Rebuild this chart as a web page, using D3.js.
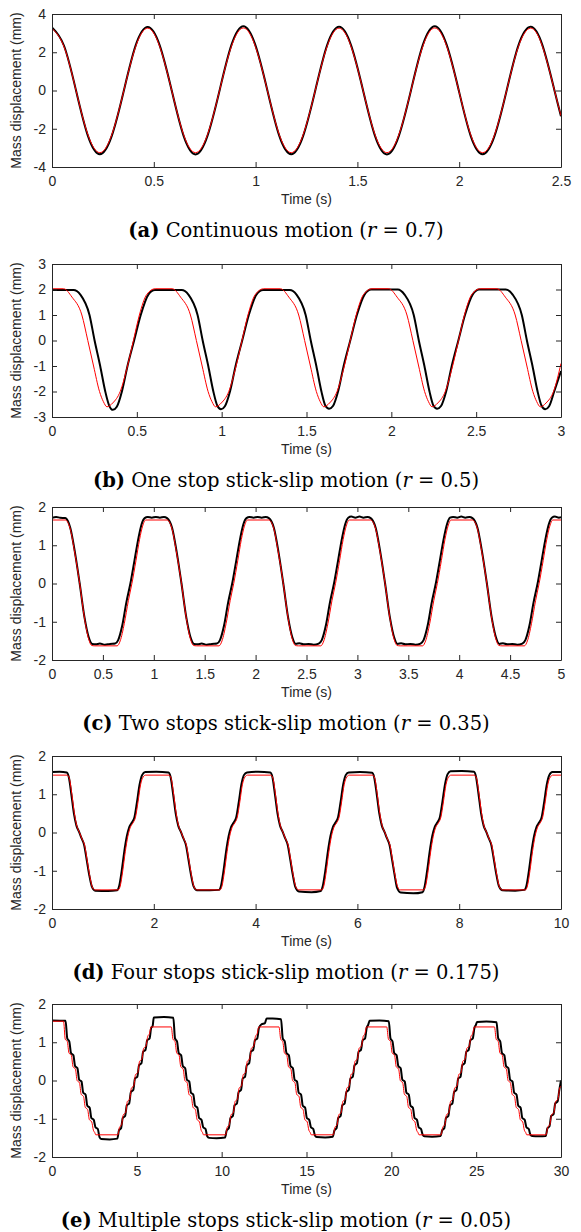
<!DOCTYPE html>
<html>
<head>
<meta charset="utf-8">
<script src="https://cdn.jsdelivr.net/npm/d3@7"></script>
<style>
  body { margin: 0; background: #fff; }
  svg text { font-family: "Liberation Sans", Arial, sans-serif; font-size: 14px; fill: #262626; }
  svg text.caption { font-family: "DejaVu Serif", "Liberation Serif", serif; font-size: 19.5px; fill: #000; }
</style>
</head>
<body>
<svg id="fig" width="581" height="1232"></svg>
<script>
// ---- data ----

// (a) continuous motion
const aTime = [0, 0.059, 0.118, 0.176, 0.235, 0.294, 0.353, 0.411, 0.47, 0.529, 0.588, 0.646, 0.705, 0.764, 0.823, 0.881,
  0.94, 0.999, 1.058, 1.116, 1.175, 1.234, 1.293, 1.351, 1.41, 1.469, 1.528, 1.586, 1.645, 1.704, 1.763, 1.821,
  1.88, 1.939, 1.998, 2.056, 2.115, 2.174, 2.233, 2.291, 2.35, 2.409, 2.468, 2.5];
const aBlack = [3.30, 2.34, 0, -2.36, -3.33, -2.36, 0, 2.36, 3.32, 2.36, 0, -2.36, -3.34, -2.36, 0, 2.37,
  3.36, 2.37, 0, -2.36, -3.33, -2.36, 0, 2.36, 3.33, 2.36, 0, -2.36, -3.34, -2.36, 0, 2.37,
  3.36, 2.37, 0, -2.36, -3.33, -2.36, 0, 2.36, 3.33, 2.36, 0, -1.35];
const aRed = [3.25, 2.29, 0, -2.30, -3.25, -2.30, 0, 2.30, 3.26, 2.30, 0, -2.30, -3.25, -2.30, 0, 2.30,
  3.27, 2.30, 0, -2.30, -3.25, -2.30, 0, 2.30, 3.26, 2.30, 0, -2.30, -3.25, -2.30, 0, 2.30,
  3.27, 2.30, 0, -2.30, -3.25, -2.30, 0, 2.30, 3.26, 2.30, 0, -1.32];

// (b) one stop stick-slip
const bBlack = [[0,1.98],[0.127,1.98],[0.167,1.8],[0.221,1.0],[0.251,0],[0.284,-1.0],[0.314,-2.0],[0.337,-2.55],[0.359,-2.72],[0.382,-2.6],[0.412,-2.0],[0.445,-1.0],[0.484,0],[0.523,1.0],[0.568,1.8],[0.607,1.98],
  [0.764,1.98],[0.804,1.8],[0.858,1.0],[0.888,0],[0.921,-1.0],[0.951,-2.0],[0.974,-2.55],[0.996,-2.7],[1.019,-2.58],[1.049,-2.0],[1.082,-1.0],[1.121,0],[1.16,1.0],[1.205,1.8],[1.244,1.98],
  [1.401,1.98],[1.441,1.8],[1.495,1.0],[1.525,0],[1.558,-1.0],[1.588,-2.0],[1.611,-2.55],[1.633,-2.68],[1.656,-2.57],[1.686,-2.0],[1.719,-1.0],[1.758,0],[1.797,1.0],[1.842,1.8],[1.881,2.0],
  [2.038,2.0],[2.078,1.8],[2.132,1.0],[2.162,0],[2.195,-1.0],[2.225,-2.0],[2.248,-2.55],[2.27,-2.68],[2.293,-2.57],[2.323,-2.0],[2.356,-1.0],[2.395,0],[2.434,1.0],[2.479,1.8],[2.518,2.0],
  [2.675,2.0],[2.715,1.8],[2.769,1.0],[2.799,0],[2.832,-1.0],[2.862,-2.0],[2.885,-2.55],[2.907,-2.7],[2.93,-2.58],[2.96,-2.0],[3.0,-1.2]];
const bRed = [[0,2.03],[0.068,2.03],[0.118,1.7],[0.176,1.0],[0.211,0],[0.245,-1.0],[0.28,-2.0],[0.303,-2.4],[0.324,-2.6],[0.358,-2.45],[0.402,-2.0],[0.445,-1.0],[0.48,0],[0.515,1.0],[0.558,1.8],[0.608,2.03],
  [0.708,2.03],[0.758,1.7],[0.816,1.0],[0.851,0],[0.885,-1.0],[0.92,-2.0],[0.943,-2.4],[0.964,-2.6],[0.998,-2.45],[1.042,-2.0],[1.085,-1.0],[1.12,0],[1.155,1.0],[1.198,1.8],[1.248,2.03],
  [1.346,2.03],[1.396,1.7],[1.454,1.0],[1.489,0],[1.523,-1.0],[1.558,-2.0],[1.581,-2.4],[1.602,-2.6],[1.636,-2.45],[1.68,-2.0],[1.723,-1.0],[1.758,0],[1.793,1.0],[1.836,1.8],[1.886,2.03],
  [1.984,2.03],[2.034,1.7],[2.092,1.0],[2.127,0],[2.161,-1.0],[2.196,-2.0],[2.219,-2.4],[2.24,-2.6],[2.274,-2.45],[2.318,-2.0],[2.361,-1.0],[2.396,0],[2.431,1.0],[2.474,1.8],[2.524,2.03],
  [2.622,2.03],[2.672,1.7],[2.73,1.0],[2.765,0],[2.799,-1.0],[2.834,-2.0],[2.857,-2.4],[2.878,-2.6],[2.912,-2.45],[2.956,-2.0],[3.0,-0.9]];

// (c) two stops stick-slip
const cBlack = [[0,1.72],[0.04,1.74],[0.08,1.72],[0.13,1.71],[0.18,1.45],[0.22,0.9],[0.272,0],[0.32,-0.9],[0.36,-1.4],[0.395,-1.58],[0.43,-1.59],[0.47,-1.57],[0.52,-1.6],[0.57,-1.58],[0.62,-1.57],[0.65,-1.48],[0.69,-1.1],[0.73,-0.5],[0.77,0],[0.81,0.6],[0.85,1.2],[0.88,1.55],[0.91,1.71],[0.94,1.74],[0.98,1.72],[1.02,1.74],[1.06,1.72],[1.1,1.74],
  [1.13,1.71],[1.18,1.45],[1.22,0.9],[1.272,0],[1.32,-0.9],[1.36,-1.4],[1.395,-1.58],[1.43,-1.59],[1.47,-1.57],[1.52,-1.6],[1.57,-1.58],[1.62,-1.57],[1.65,-1.48],[1.69,-1.1],[1.73,-0.5],[1.77,0],[1.81,0.6],[1.85,1.2],[1.88,1.55],[1.91,1.71],[1.94,1.74],[1.98,1.72],[2.02,1.74],[2.06,1.72],[2.1,1.74],
  [2.13,1.71],[2.18,1.45],[2.22,0.9],[2.272,0],[2.32,-0.9],[2.36,-1.4],[2.395,-1.58],[2.43,-1.56],[2.47,-1.59],[2.52,-1.58],[2.57,-1.6],[2.62,-1.57],[2.65,-1.48],[2.69,-1.1],[2.73,-0.5],[2.77,0],[2.81,0.6],[2.85,1.2],[2.88,1.55],[2.91,1.72],[2.94,1.75],[2.98,1.72],[3.02,1.75],[3.06,1.72],[3.1,1.74],
  [3.13,1.71],[3.18,1.45],[3.22,0.9],[3.272,0],[3.32,-0.9],[3.36,-1.4],[3.395,-1.58],[3.43,-1.56],[3.47,-1.59],[3.52,-1.58],[3.57,-1.6],[3.62,-1.57],[3.65,-1.48],[3.69,-1.1],[3.73,-0.5],[3.77,0],[3.81,0.6],[3.85,1.2],[3.88,1.55],[3.91,1.72],[3.94,1.74],[3.98,1.72],[4.02,1.75],[4.06,1.72],[4.1,1.74],
  [4.13,1.71],[4.18,1.45],[4.22,0.9],[4.272,0],[4.32,-0.9],[4.36,-1.4],[4.395,-1.58],[4.43,-1.56],[4.47,-1.59],[4.52,-1.58],[4.57,-1.6],[4.62,-1.57],[4.65,-1.48],[4.69,-1.1],[4.73,-0.5],[4.77,0],[4.81,0.6],[4.85,1.2],[4.88,1.55],[4.91,1.72],[4.94,1.75],[4.98,1.72],[5.0,1.73]];
const cRed = [[0,1.66],[0.13,1.66],[0.18,1.42],[0.22,0.86],[0.272,0],[0.32,-0.92],[0.36,-1.45],[0.39,-1.62],[0.42,-1.63],[0.64,-1.63],[0.67,-1.5],[0.71,-1.05],[0.75,-0.45],[0.785,0],[0.825,0.6],[0.86,1.15],[0.89,1.5],[0.92,1.66],
  [1.13,1.66],[1.18,1.42],[1.22,0.86],[1.272,0],[1.32,-0.92],[1.36,-1.45],[1.39,-1.62],[1.42,-1.63],[1.64,-1.63],[1.67,-1.5],[1.71,-1.05],[1.75,-0.45],[1.785,0],[1.825,0.6],[1.86,1.15],[1.89,1.5],[1.92,1.66],
  [2.13,1.66],[2.18,1.42],[2.22,0.86],[2.272,0],[2.32,-0.92],[2.36,-1.45],[2.39,-1.62],[2.42,-1.63],[2.64,-1.63],[2.67,-1.5],[2.71,-1.05],[2.75,-0.45],[2.785,0],[2.825,0.6],[2.86,1.15],[2.89,1.5],[2.92,1.66],
  [3.13,1.66],[3.18,1.42],[3.22,0.86],[3.272,0],[3.32,-0.92],[3.36,-1.45],[3.39,-1.62],[3.42,-1.63],[3.64,-1.63],[3.67,-1.5],[3.71,-1.05],[3.75,-0.45],[3.785,0],[3.825,0.6],[3.86,1.15],[3.89,1.5],[3.92,1.66],
  [4.13,1.66],[4.18,1.42],[4.22,0.86],[4.272,0],[4.32,-0.92],[4.36,-1.45],[4.39,-1.62],[4.42,-1.63],[4.64,-1.63],[4.67,-1.5],[4.71,-1.05],[4.75,-0.45],[4.785,0],[4.825,0.6],[4.86,1.15],[4.89,1.5],[4.92,1.66],[5.0,1.66]];

// (d) four stops stick-slip
const dBlack = [[0,1.58],[0.15,1.59],[0.29,1.57],[0.33,1.45],[0.38,1.0],[0.43,0.5],[0.48,0.18],[0.53,0.02],[0.58,-0.15],[0.63,-0.32],[0.68,-0.7],[0.73,-1.1],[0.78,-1.4],[0.85,-1.52],[1.1,-1.53],[1.28,-1.51],[1.32,-1.4],[1.37,-1.0],[1.42,-0.5],[1.47,-0.1],[1.52,0.15],[1.57,0.26],[1.62,0.4],[1.67,0.8],[1.72,1.25],[1.77,1.5],[1.83,1.58],[2.05,1.59],
  [2.29,1.57],[2.33,1.45],[2.38,1.0],[2.43,0.5],[2.48,0.18],[2.53,0.02],[2.58,-0.15],[2.63,-0.32],[2.68,-0.7],[2.73,-1.1],[2.78,-1.4],[2.85,-1.51],[3.1,-1.51],[3.28,-1.5],[3.32,-1.4],[3.37,-1.0],[3.42,-0.5],[3.47,-0.1],[3.52,0.15],[3.57,0.26],[3.62,0.4],[3.67,0.8],[3.72,1.25],[3.77,1.5],[3.83,1.57],[4.05,1.59],
  [4.29,1.57],[4.33,1.45],[4.38,1.0],[4.43,0.5],[4.48,0.18],[4.53,0.02],[4.58,-0.15],[4.63,-0.32],[4.68,-0.7],[4.73,-1.1],[4.78,-1.42],[4.85,-1.54],[5.1,-1.56],[5.28,-1.53],[5.32,-1.4],[5.37,-1.0],[5.42,-0.5],[5.47,-0.1],[5.52,0.15],[5.57,0.26],[5.62,0.4],[5.67,0.8],[5.72,1.25],[5.77,1.5],[5.83,1.57],[6.05,1.58],
  [6.29,1.56],[6.33,1.44],[6.38,1.0],[6.43,0.5],[6.48,0.18],[6.53,0.02],[6.58,-0.15],[6.63,-0.32],[6.68,-0.7],[6.73,-1.1],[6.78,-1.45],[6.85,-1.57],[7.1,-1.59],[7.28,-1.56],[7.32,-1.42],[7.37,-1.0],[7.42,-0.5],[7.47,-0.1],[7.52,0.15],[7.57,0.26],[7.62,0.4],[7.67,0.8],[7.72,1.25],[7.77,1.52],[7.83,1.6],[8.05,1.61],
  [8.29,1.59],[8.33,1.46],[8.38,1.0],[8.43,0.5],[8.48,0.18],[8.53,0.02],[8.58,-0.15],[8.63,-0.32],[8.68,-0.7],[8.73,-1.1],[8.78,-1.4],[8.85,-1.51],[9.1,-1.52],[9.28,-1.5],[9.32,-1.4],[9.37,-1.0],[9.42,-0.5],[9.47,-0.1],[9.52,0.15],[9.57,0.26],[9.62,0.4],[9.67,0.8],[9.72,1.25],[9.77,1.5],[9.83,1.58],[10,1.58]];
const dRed = [[0,1.5],[0.3,1.5],[0.34,1.42],[0.39,1.0],[0.44,0.5],[0.49,0.16],[0.54,0.0],[0.59,-0.17],[0.64,-0.33],[0.69,-0.72],[0.74,-1.12],[0.79,-1.42],[0.84,-1.5],[1.3,-1.5],[1.34,-1.4],[1.39,-1.0],[1.44,-0.5],[1.49,-0.1],[1.54,0.14],[1.59,0.25],[1.64,0.4],[1.69,0.8],[1.74,1.25],[1.79,1.45],[1.84,1.5],
  [2.3,1.5],[2.34,1.42],[2.39,1.0],[2.44,0.5],[2.49,0.16],[2.54,0.0],[2.59,-0.17],[2.64,-0.33],[2.69,-0.72],[2.74,-1.12],[2.79,-1.42],[2.84,-1.5],[3.3,-1.5],[3.34,-1.4],[3.39,-1.0],[3.44,-0.5],[3.49,-0.1],[3.54,0.14],[3.59,0.25],[3.64,0.4],[3.69,0.8],[3.74,1.25],[3.79,1.45],[3.84,1.5],
  [4.3,1.5],[4.34,1.42],[4.39,1.0],[4.44,0.5],[4.49,0.16],[4.54,0.0],[4.59,-0.17],[4.64,-0.33],[4.69,-0.72],[4.74,-1.12],[4.79,-1.42],[4.84,-1.5],[5.3,-1.5],[5.34,-1.4],[5.39,-1.0],[5.44,-0.5],[5.49,-0.1],[5.54,0.14],[5.59,0.25],[5.64,0.4],[5.69,0.8],[5.74,1.25],[5.79,1.45],[5.84,1.5],
  [6.3,1.5],[6.34,1.42],[6.39,1.0],[6.44,0.5],[6.49,0.16],[6.54,0.0],[6.59,-0.17],[6.64,-0.33],[6.69,-0.72],[6.74,-1.12],[6.79,-1.42],[6.84,-1.5],[7.3,-1.5],[7.34,-1.4],[7.39,-1.0],[7.44,-0.5],[7.49,-0.1],[7.54,0.14],[7.59,0.25],[7.64,0.4],[7.69,0.8],[7.74,1.25],[7.79,1.45],[7.84,1.5],
  [8.3,1.5],[8.34,1.42],[8.39,1.0],[8.44,0.5],[8.49,0.16],[8.54,0.0],[8.59,-0.17],[8.64,-0.33],[8.69,-0.72],[8.74,-1.12],[8.79,-1.42],[8.84,-1.5],[9.3,-1.5],[9.34,-1.4],[9.39,-1.0],[9.44,-0.5],[9.49,-0.1],[9.54,0.14],[9.59,0.25],[9.64,0.4],[9.69,0.8],[9.74,1.25],[9.79,1.45],[9.84,1.5],[10,1.5]];

// (e) multiple stops stick-slip
const eBlack = [[0,1.57],[0.8,1.56],[0.9,1.1],[1.02,1.02],[1.12,0.72],[1.26,0.66],[1.36,0.38],[1.5,0.32],[1.6,0.02],[1.74,-0.03],[1.84,-0.32],[1.98,-0.37],[2.08,-0.66],[2.22,-0.71],[2.32,-0.98],[2.46,-1.03],[2.56,-1.22],[2.7,-1.27],[2.8,-1.48],[2.9,-1.53],[3.4,-1.54],[3.85,-1.52],
  [3.95,-1.3],[4.07,-1.25],[4.17,-0.98],[4.31,-0.93],[4.41,-0.65],[4.55,-0.6],[4.65,-0.3],[4.79,-0.25],[4.89,0.05],[5.03,0.1],[5.13,0.4],[5.27,0.45],[5.37,0.75],[5.51,0.8],[5.61,1.05],[5.75,1.1],[5.85,1.38],[5.93,1.42],[6.0,1.65],[6.6,1.66],[7.15,1.64],
  [7.25,1.1],[7.37,1.02],[7.47,0.72],[7.61,0.66],[7.71,0.38],[7.85,0.32],[7.95,0.02],[8.09,-0.03],[8.19,-0.32],[8.33,-0.37],[8.43,-0.66],[8.57,-0.71],[8.67,-0.98],[8.81,-1.03],[8.91,-1.22],[9.05,-1.27],[9.15,-1.46],[9.25,-1.5],[9.7,-1.51],[10.2,-1.49],
  [10.3,-1.3],[10.42,-1.25],[10.52,-0.98],[10.66,-0.93],[10.76,-0.65],[10.9,-0.6],[11.0,-0.3],[11.14,-0.25],[11.24,0.05],[11.38,0.1],[11.48,0.4],[11.62,0.45],[11.72,0.75],[11.86,0.8],[11.96,1.05],[12.1,1.1],[12.2,1.38],[12.35,1.47],[12.55,1.5],[12.65,1.62],[13.0,1.62],[13.5,1.6],
  [13.6,1.1],[13.72,1.02],[13.82,0.72],[13.96,0.66],[14.06,0.38],[14.2,0.32],[14.3,0.02],[14.44,-0.03],[14.54,-0.32],[14.68,-0.37],[14.78,-0.66],[14.92,-0.71],[15.02,-0.98],[15.16,-1.03],[15.26,-1.22],[15.4,-1.27],[15.5,-1.44],[15.6,-1.48],[16.1,-1.49],[16.55,-1.47],
  [16.65,-1.3],[16.77,-1.25],[16.87,-0.98],[17.01,-0.93],[17.11,-0.65],[17.25,-0.6],[17.35,-0.3],[17.49,-0.25],[17.59,0.05],[17.73,0.1],[17.83,0.4],[17.97,0.45],[18.07,0.75],[18.21,0.8],[18.31,1.05],[18.45,1.1],[18.55,1.38],[18.63,1.45],[18.72,1.56],[19.3,1.57],[19.85,1.55],
  [19.95,1.1],[20.07,1.02],[20.17,0.72],[20.31,0.66],[20.41,0.38],[20.55,0.32],[20.65,0.02],[20.79,-0.03],[20.89,-0.32],[21.03,-0.37],[21.13,-0.66],[21.27,-0.71],[21.37,-0.98],[21.51,-1.03],[21.61,-1.22],[21.75,-1.27],[21.85,-1.42],[21.95,-1.46],[22.4,-1.47],[22.9,-1.45],
  [23.0,-1.3],[23.12,-1.25],[23.22,-0.98],[23.36,-0.93],[23.46,-0.65],[23.6,-0.6],[23.7,-0.3],[23.84,-0.25],[23.94,0.05],[24.08,0.1],[24.18,0.4],[24.32,0.45],[24.42,0.75],[24.56,0.8],[24.66,1.05],[24.8,1.1],[24.9,1.38],[24.98,1.45],[25.05,1.53],[25.6,1.54],[26.2,1.52],
  [26.3,1.1],[26.42,1.02],[26.52,0.72],[26.66,0.66],[26.76,0.38],[26.9,0.32],[27.0,0.02],[27.14,-0.03],[27.24,-0.32],[27.38,-0.37],[27.48,-0.66],[27.62,-0.71],[27.72,-0.98],[27.86,-1.03],[27.96,-1.22],[28.1,-1.27],[28.2,-1.42],[28.3,-1.45],[28.7,-1.46],[29.1,-1.45],
  [29.2,-1.25],[29.32,-1.2],[29.42,-0.93],[29.56,-0.88],[29.66,-0.6],[29.8,-0.55],[29.9,-0.25],[30.0,0.0]];
const eRed = [[0,1.55],[0.68,1.55],[0.78,1.08],[0.9,1.02],[1.0,0.72],[1.14,0.66],[1.24,0.36],[1.38,0.3],[1.48,0.0],[1.62,-0.06],[1.72,-0.36],[1.86,-0.42],[1.96,-0.7],[2.1,-0.76],[2.2,-1.02],[2.34,-1.08],[2.44,-1.3],[2.52,-1.36],[2.58,-1.42],[3.88,-1.42],
  [3.98,-1.22],[4.1,-1.16],[4.2,-0.9],[4.34,-0.84],[4.44,-0.55],[4.58,-0.49],[4.68,-0.2],[4.82,-0.14],[4.92,0.15],[5.06,0.21],[5.16,0.5],[5.3,0.56],[5.4,0.84],[5.54,0.9],[5.64,1.15],[5.74,1.22],[5.84,1.4],
  [7.03,1.4],[7.13,1.08],[7.25,1.02],[7.35,0.72],[7.49,0.66],[7.59,0.36],[7.73,0.3],[7.83,0.0],[7.97,-0.06],[8.07,-0.36],[8.21,-0.42],[8.31,-0.7],[8.45,-0.76],[8.55,-1.02],[8.69,-1.08],[8.79,-1.3],[8.87,-1.36],[8.93,-1.42],[10.23,-1.42],
  [10.33,-1.22],[10.45,-1.16],[10.55,-0.9],[10.69,-0.84],[10.79,-0.55],[10.93,-0.49],[11.03,-0.2],[11.17,-0.14],[11.27,0.15],[11.41,0.21],[11.51,0.5],[11.65,0.56],[11.75,0.84],[11.89,0.9],[11.99,1.15],[12.09,1.22],[12.19,1.4],
  [13.38,1.4],[13.48,1.08],[13.6,1.02],[13.7,0.72],[13.84,0.66],[13.94,0.36],[14.08,0.3],[14.18,0.0],[14.32,-0.06],[14.42,-0.36],[14.56,-0.42],[14.66,-0.7],[14.8,-0.76],[14.9,-1.02],[15.04,-1.08],[15.14,-1.3],[15.22,-1.36],[15.28,-1.42],[16.58,-1.42],
  [16.68,-1.22],[16.8,-1.16],[16.9,-0.9],[17.04,-0.84],[17.14,-0.55],[17.28,-0.49],[17.38,-0.2],[17.52,-0.14],[17.62,0.15],[17.76,0.21],[17.86,0.5],[18.0,0.56],[18.1,0.84],[18.24,0.9],[18.34,1.15],[18.44,1.22],[18.54,1.4],
  [19.73,1.4],[19.83,1.08],[19.95,1.02],[20.05,0.72],[20.19,0.66],[20.29,0.36],[20.43,0.3],[20.53,0.0],[20.67,-0.06],[20.77,-0.36],[20.91,-0.42],[21.01,-0.7],[21.15,-0.76],[21.25,-1.02],[21.39,-1.08],[21.49,-1.3],[21.57,-1.36],[21.63,-1.42],[22.93,-1.42],
  [23.03,-1.22],[23.15,-1.16],[23.25,-0.9],[23.39,-0.84],[23.49,-0.55],[23.63,-0.49],[23.73,-0.2],[23.87,-0.14],[23.97,0.15],[24.11,0.21],[24.21,0.5],[24.35,0.56],[24.45,0.84],[24.59,0.9],[24.69,1.15],[24.79,1.22],[24.89,1.4],
  [26.08,1.4],[26.18,1.08],[26.3,1.02],[26.4,0.72],[26.54,0.66],[26.64,0.36],[26.78,0.3],[26.88,0.0],[27.02,-0.06],[27.12,-0.36],[27.26,-0.42],[27.36,-0.7],[27.5,-0.76],[27.6,-1.02],[27.74,-1.08],[27.84,-1.3],[27.92,-1.36],[27.98,-1.42],[29.12,-1.42],
  [29.22,-1.22],[29.34,-1.16],[29.44,-0.9],[29.58,-0.84],[29.68,-0.55],[29.82,-0.49],[29.92,-0.2],[30.0,-0.15]];

// axes
const xDomains = [[0, 2.5], [0, 3], [0, 5], [0, 10], [0, 30]];
const xTickVals = [
  [0, 0.5, 1, 1.5, 2, 2.5],
  [0, 0.5, 1, 1.5, 2, 2.5, 3],
  [0, 0.5, 1, 1.5, 2, 2.5, 3, 3.5, 4, 4.5, 5],
  [0, 2, 4, 6, 8, 10],
  [0, 5, 10, 15, 20, 25, 30]
];
const yDomains = [[-4, 4], [-3, 3], [-2, 2], [-2, 2], [-2, 2]];
const yTickVals = [
  [-4, -2, 0, 2, 4],
  [-3, -2, -1, 0, 1, 2, 3],
  [-2, -1, 0, 1, 2],
  [-2, -1, 0, 1, 2],
  [-2, -1, 0, 1, 2]
];
const captionTags = ["(a)", "(b)", "(c)", "(d)", "(e)"];
const captionTexts = ["Continuous motion", "One stop stick-slip motion", "Two stops stick-slip motion",
  "Four stops stick-slip motion", "Multiple stops stick-slip motion"];
const rValues = ["0.7", "0.5", "0.35", "0.175", "0.05"];

const panels = [
  { black: aTime.map((t, i) => [t, aBlack[i]]), red: aTime.map((t, i) => [t, aRed[i]]), curve: d3.curveNatural },
  { black: bBlack, red: bRed, curve: d3.curveMonotoneX },
  { black: cBlack, red: cRed, curve: d3.curveMonotoneX },
  { black: dBlack, red: dRed, curve: d3.curveMonotoneX },
  { black: eBlack, red: eRed, curve: d3.curveMonotoneX }
];

// ---- layout ----
const svg = d3.select("#fig");
const plotLeft = 52, plotWidth = 509, plotHeight = 153;
const plotTops = [14, 264, 507, 756, 1004];
const axisColor = "#262626";
const fmt = d => String(d);

panels.forEach((p, i) => {
    const top = plotTops[i];
    const g = svg.append("g").attr("transform", `translate(${plotLeft},${top})`);

    const x = d3.scaleLinear().domain(xDomains[i]).range([0, plotWidth]);
    const y = d3.scaleLinear().domain(yDomains[i]).range([plotHeight, 0]);

    g.append("clipPath").attr("id", "clip" + i)
        .append("rect").attr("width", plotWidth).attr("height", plotHeight);

    const line = d3.line()
        .x(d => x(d[0]))
        .y(d => y(d[1]))
        .curve(p.curve);

    const lines = g.append("g").attr("clip-path", `url(#clip${i})`);
    lines.append("path").datum(p.black)
        .attr("fill", "none").attr("stroke", "#000").attr("stroke-width", 2)
        .attr("stroke-linejoin", "round").attr("d", line);
    lines.append("path").datum(p.red)
        .attr("fill", "none").attr("stroke", "#ff0000").attr("stroke-width", 1)
        .attr("stroke-linejoin", "round").attr("d", line);

    // box with inward ticks on all four sides
    const axes = [
        g.append("g").attr("transform", `translate(0,${plotHeight})`)
            .call(d3.axisBottom(x).tickValues(xTickVals[i]).tickFormat(fmt).tickSizeInner(-5).tickSizeOuter(0).tickPadding(9)),
        g.append("g")
            .call(d3.axisTop(x).tickValues(xTickVals[i]).tickFormat("").tickSizeInner(-5).tickSizeOuter(0)),
        g.append("g")
            .call(d3.axisLeft(y).tickValues(yTickVals[i]).tickFormat(fmt).tickSizeInner(-5).tickSizeOuter(0).tickPadding(6)),
        g.append("g").attr("transform", `translate(${plotWidth},0)`)
            .call(d3.axisRight(y).tickValues(yTickVals[i]).tickFormat("").tickSizeInner(-5).tickSizeOuter(0))
    ];
    axes.forEach(a => a.attr("font-size", null).attr("font-family", null).attr("color", axisColor));

    // x label
    g.append("text")
        .attr("x", plotWidth / 2)
        .attr("y", plotHeight + 37)
        .attr("text-anchor", "middle")
        .text("Time (s)");

    // y label
    g.append("text")
        .attr("transform", `translate(${21 - plotLeft},${plotHeight / 2}) rotate(-90)`)
        .attr("text-anchor", "middle")
        .text("Mass displacement (mm)");

    // caption
    const cap = svg.append("text")
        .attr("class", "caption")
        .attr("x", 286)
        .attr("y", top + plotHeight + 70)
        .attr("text-anchor", "middle");
    cap.append("tspan").attr("font-weight", "bold").text(captionTags[i]);
    cap.append("tspan").text(" " + captionTexts[i] + " (");
    cap.append("tspan").attr("font-style", "italic").text("r");
    cap.append("tspan").text(" = " + rValues[i] + ")");
});
</script>
</body>
</html>
